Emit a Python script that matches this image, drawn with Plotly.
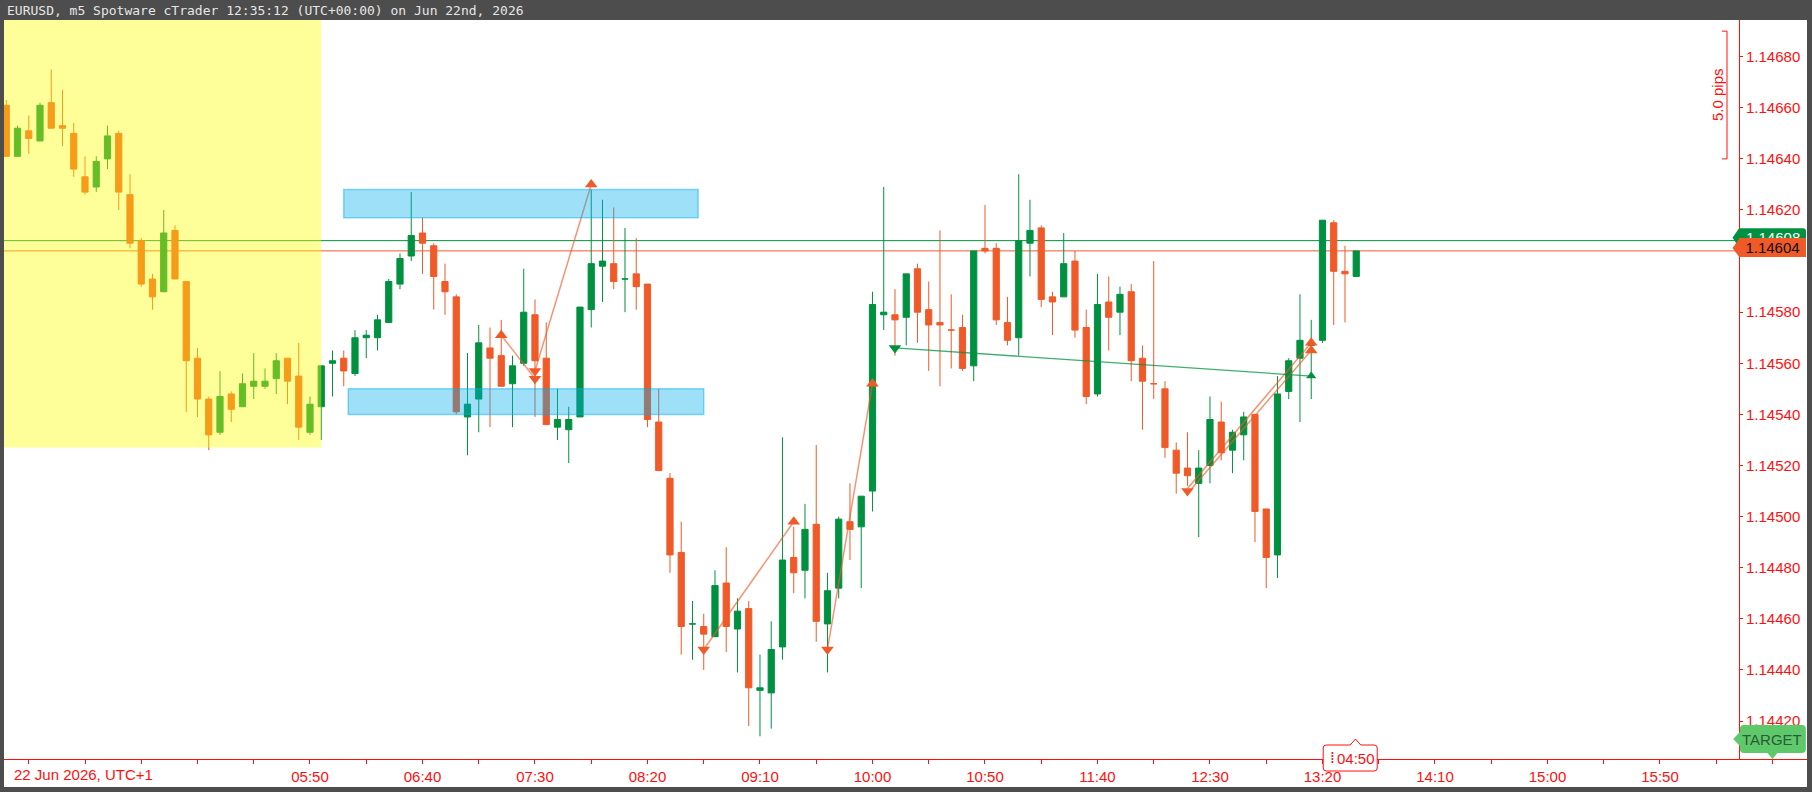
import pandas as pd
import plotly.graph_objects as go

#%% Dados - EURUSD m5, 22 Jun 2026 (UTC+1), primeira barra 03:35

opens = [1.14661, 1.14641, 1.14651, 1.14647, 1.14662, 1.14653, 1.14650, 1.14633, 1.14629, 1.14640,
         1.14650, 1.14626, 1.14608, 1.14593, 1.14588, 1.14612, 1.14592, 1.14562, 1.14546, 1.14533,
         1.14548, 1.14543, 1.14551, 1.14551, 1.14554, 1.14562, 1.14555, 1.14533, 1.14543, 1.14560,
         1.14562, 1.14556, 1.14570, 1.14570, 1.14576, 1.14591, 1.14602, 1.14611, 1.14606, 1.14592,
         1.14586, 1.14539, 1.14546, 1.14566, 1.14563, 1.14552, 1.14560, 1.14579, 1.14562, 1.14535,
         1.14534, 1.14539, 1.14581, 1.14598, 1.14599, 1.14593, 1.14595, 1.14591, 1.14537, 1.14515,
         1.14486, 1.14458, 1.14457, 1.14453, 1.14474, 1.14456, 1.14464, 1.14432, 1.14431, 1.14449,
         1.14484, 1.14479, 1.14497, 1.14458, 1.14472, 1.14498, 1.14496, 1.14510, 1.14579, 1.14579,
         1.14578, 1.14597, 1.14581, 1.14576, 1.14573, 1.14574, 1.14559, 1.14605, 1.14605, 1.14576,
         1.14570, 1.14607, 1.14613, 1.14586, 1.14586, 1.14600, 1.14574, 1.14548, 1.14584, 1.14580,
         1.14588, 1.14562, 1.14552, 1.14550, 1.14526, 1.14519, 1.14513, 1.14520, 1.14537, 1.14526,
         1.14532, 1.14540, 1.14503, 1.14485, 1.14549, 1.14562, 1.14567, 1.14569, 1.14615, 1.14596,
         1.14594]

highs = [1.14663, 1.14653, 1.14657, 1.14662, 1.14675, 1.14667, 1.14654, 1.14641, 1.14641, 1.14653,
         1.14651, 1.14634, 1.14609, 1.14595, 1.14620, 1.14614, 1.14592, 1.14566, 1.14547, 1.14557,
         1.14549, 1.14556, 1.14564, 1.14558, 1.14564, 1.14562, 1.14568, 1.14547, 1.14559, 1.14565,
         1.14565, 1.14573, 1.14573, 1.14579, 1.14593, 1.14603, 1.14627, 1.14617, 1.14607, 1.14599,
         1.14587, 1.14564, 1.14575, 1.14574, 1.14577, 1.14563, 1.14597, 1.14585, 1.14576, 1.14550,
         1.14543, 1.14582, 1.14628, 1.14624, 1.14621, 1.14613, 1.14609, 1.14591, 1.14550, 1.14517,
         1.14498, 1.14467, 1.14462, 1.14479, 1.14488, 1.14468, 1.14467, 1.14446, 1.14459, 1.14531,
         1.14496, 1.14505, 1.14528, 1.14478, 1.14500, 1.14513, 1.14508, 1.14588, 1.14629, 1.14589,
         1.14595, 1.14599, 1.14592, 1.14612, 1.14587, 1.14579, 1.14604, 1.14622, 1.14607, 1.14586,
         1.14634, 1.14624, 1.14614, 1.14588, 1.14611, 1.14604, 1.14581, 1.14595, 1.14594, 1.14590,
         1.14591, 1.14567, 1.14600, 1.14553, 1.14529, 1.14533, 1.14526, 1.14547, 1.14545, 1.14534,
         1.14541, 1.14540, 1.14503, 1.14555, 1.14562, 1.14587, 1.14577, 1.14616, 1.14616, 1.14606,
         1.14604]

lows = [1.14641, 1.14641, 1.14642, 1.14647, 1.14652, 1.14645, 1.14633, 1.14626, 1.14627, 1.14636,
        1.14620, 1.14605, 1.14590, 1.14581, 1.14588, 1.14593, 1.14541, 1.14539, 1.14526, 1.14532,
        1.14537, 1.14543, 1.14546, 1.14550, 1.14548, 1.14544, 1.14530, 1.14532, 1.14530, 1.14547,
        1.14551, 1.14555, 1.14562, 1.14565, 1.14576, 1.14589, 1.14600, 1.14595, 1.14581, 1.14579,
        1.14540, 1.14524, 1.14533, 1.14535, 1.14551, 1.14535, 1.14559, 1.14539, 1.14536, 1.14530,
        1.14521, 1.14539, 1.14574, 1.14584, 1.14589, 1.14580, 1.14581, 1.14535, 1.14518, 1.14478,
        1.14446, 1.14444, 1.14440, 1.14453, 1.14447, 1.14439, 1.14418, 1.14414, 1.14417, 1.14444,
        1.14470, 1.14468, 1.14451, 1.14439, 1.14468, 1.14483, 1.14472, 1.14502, 1.14573, 1.14563,
        1.14567, 1.14568, 1.14557, 1.14551, 1.14558, 1.14557, 1.14553, 1.14603, 1.14575, 1.14567,
        1.14563, 1.14594, 1.14582, 1.14571, 1.14586, 1.14570, 1.14544, 1.14547, 1.14565, 1.14571,
        1.14553, 1.14534, 1.14546, 1.14523, 1.14509, 1.14512, 1.14492, 1.14513, 1.14522, 1.14517,
        1.14522, 1.14490, 1.14472, 1.14476, 1.14546, 1.14537, 1.14546, 1.14568, 1.14575, 1.14576,
        1.14594]

closes = [1.14641, 1.14652, 1.14648, 1.14661, 1.14652, 1.14652, 1.14636, 1.14627, 1.14639, 1.14649,
          1.14627, 1.14607, 1.14591, 1.14586, 1.14611, 1.14593, 1.14561, 1.14546, 1.14532, 1.14547,
          1.14542, 1.14552, 1.14553, 1.14553, 1.14561, 1.14553, 1.14535, 1.14544, 1.14559, 1.14561,
          1.14557, 1.14570, 1.14571, 1.14577, 1.14592, 1.14601, 1.14610, 1.14607, 1.14594, 1.14588,
          1.14541, 1.14544, 1.14568, 1.14562, 1.14551, 1.14559, 1.14580, 1.14561, 1.14536, 1.14538,
          1.14538, 1.14582, 1.14599, 1.14600, 1.14592, 1.14593, 1.14590, 1.14538, 1.14518, 1.14485,
          1.14457, 1.14458, 1.14454, 1.14473, 1.14457, 1.14463, 1.14433, 1.14433, 1.14448, 1.14483,
          1.14478, 1.14495, 1.14459, 1.14471, 1.14499, 1.14495, 1.14508, 1.14583, 1.14580, 1.14577,
          1.14595, 1.14580, 1.14575, 1.14575, 1.14573, 1.14558, 1.14604, 1.14604, 1.14577, 1.14569,
          1.14608, 1.14612, 1.14585, 1.14584, 1.14599, 1.14573, 1.14547, 1.14583, 1.14578, 1.14587,
          1.14561, 1.14553, 1.14552, 1.14527, 1.14517, 1.14516, 1.14519, 1.14538, 1.14525, 1.14533,
          1.14539, 1.14502, 1.14484, 1.14548, 1.14561, 1.14569, 1.14568, 1.14616, 1.14596, 1.14595,
          1.14604]

times = pd.date_range("2026-06-22 03:35", periods=len(opens), freq="5min")

ask = 1.14608
bid = closes[-1]

# sessao (caixa amarela)
session_start = "03:00"
session_end = "05:55"
session_low = 1.14527

# zonas azuis
zone_start = ["06:05", "06:07"]
zone_end = ["08:42:30", "08:45"]
zone_top = [1.14628, 1.14550]
zone_bottom = [1.14617, 1.14540]

# setas laranja
orange_up_t = ["07:15", "07:55", "09:25", "10:00", "13:15", "13:15"]
orange_up_p = [1.14571, 1.14630, 1.14498, 1.14552, 1.14568, 1.14565]
orange_dn_t = ["07:30", "07:30", "08:45", "09:40", "12:20"]
orange_dn_p = [1.14557, 1.14554, 1.14448, 1.14448, 1.14510]

seg_t0 = ["07:15", "07:30", "08:45", "09:40", "12:20", "12:20"]
seg_p0 = [1.14571, 1.14557, 1.14448, 1.14448, 1.14511, 1.14509]
seg_t1 = ["07:30", "07:55", "09:25", "10:00", "13:15", "13:15"]
seg_p1 = [1.14554, 1.14630, 1.14498, 1.14552, 1.14568, 1.14565]

# seta verde
green_dn_t, green_dn_p = ["10:10"], [1.14566]
green_up_t, green_up_p = ["13:15"], [1.14555]

# regua de pips
ruler_low, ruler_high = 1.14640, 1.14690

y_ticks = [1.1442, 1.1444, 1.1446, 1.1448, 1.1450, 1.1452, 1.1454, 1.1456, 1.1458, 1.1462,
           1.1464, 1.1466, 1.1468]


def t(s):
    return "2026-06-22 " + s


#%% Grafico

RED = "#ff1010"
GREEN = "#009140"
ORANGE = "#f05a28"
FONT = "Liberation Sans"
AXIS_X = (1739 - 4) / 1803  # posicao do eixo de precos (fracao do papel)

fig = go.Figure()

fig.add_trace(go.Candlestick(
    x=times, open=opens, high=highs, low=lows, close=closes,
    increasing=dict(line=dict(color=GREEN, width=1), fillcolor=GREEN),
    decreasing=dict(line=dict(color=ORANGE, width=1), fillcolor=ORANGE),
    whiskerwidth=0, hoverinfo="skip"))

# linhas dos trades laranja
seg_x, seg_y = [], []
for a, pa, b, pb in zip(seg_t0, seg_p0, seg_t1, seg_p1):
    seg_x += [t(a), t(b), None]
    seg_y += [pa, pb, None]
fig.add_trace(go.Scatter(x=seg_x, y=seg_y, mode="lines",
                         line=dict(color="rgba(240,90,40,0.65)", width=1.5), hoverinfo="skip"))

fig.add_trace(go.Scatter(x=[t(v) for v in green_dn_t + green_up_t], y=green_dn_p + green_up_p,
                         mode="lines", line=dict(color="rgba(0,145,64,0.75)", width=1.3),
                         hoverinfo="skip"))

fig.add_trace(go.Scatter(x=[t(v) for v in orange_up_t], y=orange_up_p, mode="markers",
                         marker=dict(symbol="triangle-up", size=11, color=ORANGE), hoverinfo="skip"))
fig.add_trace(go.Scatter(x=[t(v) for v in orange_dn_t], y=orange_dn_p, mode="markers",
                         marker=dict(symbol="triangle-down", size=11, color=ORANGE), hoverinfo="skip"))
fig.add_trace(go.Scatter(x=[t(v) for v in green_up_t], y=green_up_p, mode="markers",
                         marker=dict(symbol="triangle-up", size=9, color=GREEN), hoverinfo="skip"))
fig.add_trace(go.Scatter(x=[t(v) for v in green_dn_t], y=green_dn_p, mode="markers",
                         marker=dict(symbol="triangle-down", size=11, color=GREEN), hoverinfo="skip"))

shapes = []
# fundo branco da area de rotulos
shapes.append(dict(type="rect", xref="paper", yref="paper", x0=0, x1=1, y0=-28 / 739, y1=1,
                   fillcolor="white", line_width=0, layer="below"))
# linhas ask / bid
shapes.append(dict(type="line", xref="paper", yref="y", x0=0, x1=AXIS_X, y0=ask, y1=ask,
                   line=dict(color=GREEN, width=1), layer="below"))
shapes.append(dict(type="line", xref="paper", yref="y", x0=0, x1=AXIS_X, y0=bid, y1=bid,
                   line=dict(color=ORANGE, width=1), layer="below"))
# sessao amarela
shapes.append(dict(type="rect", xref="x", yref="y", x0=t(session_start), x1=t(session_end),
                   y0=session_low, y1=1.1475, fillcolor="rgba(255,255,0,0.4)", line_width=0,
                   layer="above"))
# zonas azuis
for s, e, top, bot in zip(zone_start, zone_end, zone_top, zone_bottom):
    shapes.append(dict(type="rect", xref="x", yref="y", x0=t(s), x1=t(e), y0=bot, y1=top,
                       fillcolor="rgba(0,174,237,0.38)",
                       line=dict(color="rgba(0,170,235,0.45)", width=1.5), layer="above"))

# etiqueta ask (verde, fica atras da etiqueta bid)
OFF = 3
shapes.append(dict(type="path", xref="paper", yref="y", xsizemode="pixel", ysizemode="pixel",
                   xanchor=AXIS_X, yanchor=ask,
                   path=f"M -6.5 {OFF} L 0 {OFF + 9.5} L 64 {OFF + 9.5} Q 67 {OFF + 9.5} 67 {OFF + 6.5} "
                        f"L 67 {OFF - 6.5} Q 67 {OFF - 9.5} 64 {OFF - 9.5} L 0 {OFF - 9.5} Z",
                   fillcolor=GREEN, line_width=0, layer="above"))
# ponta da etiqueta bid
shapes.append(dict(type="path", xref="paper", yref="y", xsizemode="pixel", ysizemode="pixel",
                   xanchor=AXIS_X, yanchor=bid,
                   path=f"M -6.5 {OFF} L 0.5 {OFF + 9.5} L 0.5 {OFF - 9.5} Z",
                   fillcolor=ORANGE, line_width=0, layer="above"))

# TARGET
shapes.append(dict(type="path", xref="x", yref="paper", xsizemode="pixel", ysizemode="pixel",
                   xanchor=t("16:40"), yanchor=0,
                   path="M -32.6 30 Q -32.6 34 -28.6 34 L 29.4 34 Q 33.4 34 33.4 30 L 33.4 10 "
                        "Q 33.4 6 29.4 6 L 5 6 L 0 0 L -5 6 L -28.6 6 Q -32.6 6 -32.6 10 "
                        "L -32.6 13 L -39.3 20 L -32.6 27 Z",
                   fillcolor="#5ec96b", line_width=0, layer="above"))

# contador da barra
shapes.append(dict(type="path", xref="x", yref="paper", xsizemode="pixel", ysizemode="pixel",
                   xanchor=times[-1], yanchor=0,
                   path="M -30 14 L -6 14 L -0.75 20 L 4.5 14 L 18 14 Q 21 14 21 11 L 21 -9 "
                        "Q 21 -12 18 -12 L -30 -12 Q -33 -12 -33 -9 L -33 11 Q -33 14 -30 14 Z",
                   fillcolor="white", line=dict(color=RED, width=1), layer="above"))

# regua 5 pips
shapes.append(dict(type="path", xref="paper", yref="y", xsizemode="pixel",
                   xanchor=(1727 - 4) / 1803,
                   path=f"M -5 {ruler_high} L 0 {ruler_high} L 0 {ruler_low} L -5 {ruler_low}",
                   line=dict(color=RED, width=1), layer="above"))

annotations = [
    dict(text="EURUSD, m5 Spotware cTrader 12:35:12 (UTC+00:00) on Jun 22nd, 2026",
         xref="paper", yref="paper", x=0, y=1, xanchor="left", yanchor="middle", xshift=1,
         yshift=10, showarrow=False, font=dict(family="DejaVu Sans Mono", size=13, color="#e6e6e6")),
    dict(text="22 Jun 2026, UTC+1", xref="paper", yref="paper", x=7.5 / 1803, y=0,
         xanchor="left", yanchor="middle", yshift=-15, showarrow=False,
         font=dict(family=FONT, size=15, color=RED)),
    dict(text=f"{ask:.5f}", xref="paper", yref="y", x=AXIS_X, y=ask, xshift=33.5, yshift=OFF,
         xanchor="center", yanchor="middle", showarrow=False,
         font=dict(family=FONT, size=15, color="white")),
    # etiqueta bid com fundo, cobre a etiqueta ask
    dict(text=f"{bid:.5f}", xref="paper", yref="y", x=AXIS_X, y=bid, xshift=0, yshift=OFF,
         xanchor="left", yanchor="middle", showarrow=False, width=67, height=19,
         bgcolor=ORANGE, borderpad=0, borderwidth=0, align="center", valign="middle",
         font=dict(family=FONT, size=15, color="#111111")),
    dict(text="TARGET", xref="x", yref="paper", x=t("16:40"), y=0, yshift=20,
         xanchor="center", yanchor="middle", showarrow=False,
         font=dict(family=FONT, size=15, color="#2f5a36")),
    dict(text="04:50", xref="x", yref="paper", x=times[-1], y=0, xshift=0, yshift=1,
         xanchor="center", yanchor="middle", showarrow=False,
         font=dict(family=FONT, size=15, color=RED)),
    dict(text="⁞", xref="x", yref="paper", x=times[-1], y=0, xshift=-24, yshift=1,
         xanchor="center", yanchor="middle", showarrow=False,
         font=dict(family="DejaVu Sans", size=15, color=RED)),
    dict(text="5.0 pips", xref="paper", yref="y", x=(1727 - 4) / 1803, y=(ruler_low + ruler_high) / 2,
         xshift=-10, textangle=-90, xanchor="center", yanchor="middle", showarrow=False,
         font=dict(family=FONT, size=15, color=RED)),
]

tick_times = pd.date_range(t("03:45"), t("16:40"), freq="25min")
label_times = set(pd.date_range(t("05:50"), t("15:50"), freq="50min"))
tick_text = [tt.strftime("%H:%M") if tt in label_times else "" for tt in tick_times]

fig.update_layout(
    width=1812, height=792,
    margin=dict(l=4, r=5, t=20, b=33),
    paper_bgcolor="#4d4d4d", plot_bgcolor="white",
    showlegend=False, boxgap=0.45, boxgroupgap=0,
    shapes=shapes, annotations=annotations,
    xaxis=dict(type="date", range=[t("03:34"), t("16:55:21")], showgrid=False, zeroline=False,
               showline=True, linecolor=RED, linewidth=1, ticks="outside", ticklen=4,
               tickcolor=RED, tickvals=list(tick_times), ticktext=tick_text,
               tickfont=dict(family=FONT, size=15, color=RED),
               rangeslider=dict(visible=False)),
    yaxis=dict(range=[1.1440513, 1.1469436], side="right", anchor="free", position=AXIS_X,
               showgrid=False, zeroline=False, showline=True, linecolor=RED, linewidth=1,
               ticks="outside", ticklen=3, tickcolor=RED, tickvals=y_ticks,
               ticktext=[f"{v:.5f}" for v in y_ticks],
               tickfont=dict(family=FONT, size=15, color=RED)),
)

# sem margem do body, para a figura ocupar a janela inteira
fig.write_html("out.html", config={"displayModeBar": False},
               post_script="document.body.style.margin='0';document.body.style.overflow='hidden';")
